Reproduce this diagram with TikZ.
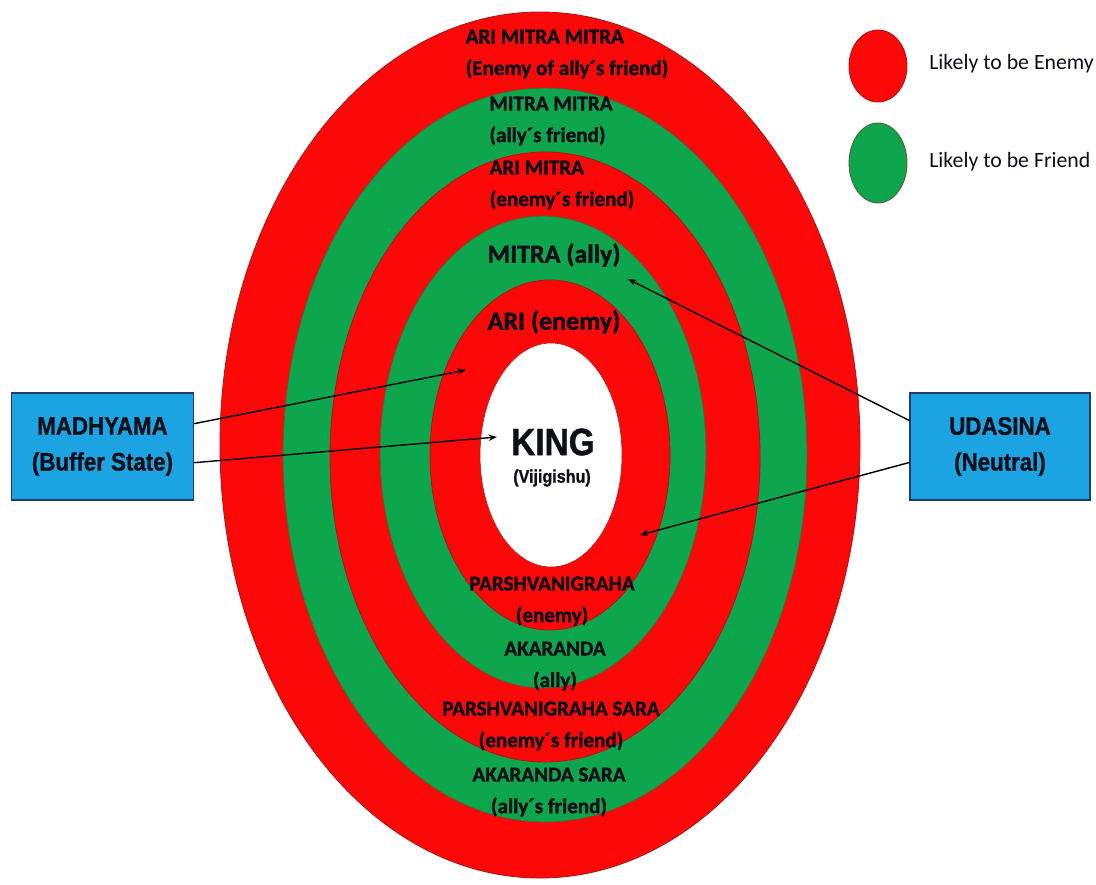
\documentclass[tikz,border=0pt]{standalone}
\usepackage{fontspec}
\setmainfont[BoldFeatures={FakeBold=1.6}]{Carlito}
\newfontfamily\headfont[FakeStretch=0.88, BoldFeatures={FakeBold=1}]{Liberation Sans}
\usetikzlibrary{arrows.meta}
\definecolor{enemyred}{RGB}{252,8,8}
\definecolor{friendgreen}{RGB}{14,166,76}
\definecolor{ringedge}{RGB}{165,25,25}
\definecolor{boxblue}{RGB}{28,164,226}
\definecolor{boxedge}{RGB}{30,60,110}
\definecolor{inktext}{RGB}{12,14,24}

\begin{document}
\begin{tikzpicture}[x=0.025cm, y=-0.025cm,
  redring/.style={fill=enemyred, draw=ringedge, line width=0.6pt},
  greenring/.style={fill=friendgreen, draw=ringedge!50!friendgreen, line width=0.6pt},
  ringlbl/.style={font=\bfseries\fontsize{15}{22.5}\selectfont, text=inktext, inner sep=0pt},
  biglbl/.style={font=\bfseries\fontsize{18.5}{22}\selectfont, text=inktext, inner sep=0pt},
  statebox/.style={draw=boxedge, line width=1pt, fill=boxblue, minimum width=4.55cm, text=inktext,
    minimum height=2.68cm, align=center, font=\headfont\bfseries\fontsize{18}{25.5}\selectfont},
  keytext/.style={anchor=west, inner sep=0pt, text=inktext, font=\fontsize{15.5}{18}\selectfont},
  link/.style={-{Stealth[length=6pt,width=4.5pt]}, line width=1pt}]
\useasboundingbox (0,0) rectangle (1096,884);

% circles of states
\filldraw[redring] (540,445) ellipse (320 and 433);
\filldraw[greenring] (545,455) ellipse (262 and 367);
\filldraw[redring] (545,457) ellipse (215 and 305);
\filldraw[greenring] (543,452) ellipse (163 and 236);
\filldraw[redring] (550,455) ellipse (120 and 175);
\filldraw[fill=white, draw=ringedge] (551,455) ellipse (71 and 112);

% labels in the rings
\node[ringlbl, align=left] (arimitramitra) at (567,54) {ARI MITRA MITRA\\(Enemy of ally´s friend)};
\node[ringlbl, align=left] (mitramitra) at (551,121) {MITRA MITRA\\(ally´s friend)};
\node[ringlbl, align=left] (arimitra) at (562,185) {ARI MITRA\\(enemy´s friend)};
\node[biglbl] (mitra) at (554,255) {MITRA (ally)};
\node[biglbl] (ari) at (554,322) {ARI (enemy)};
\node[text=inktext, font=\headfont\bfseries\fontsize{27}{30}\selectfont] (king) at (553,442) {KING};
\node[text=inktext, font=\headfont\bfseries\fontsize{13}{15}\selectfont] (vijigishu) at (552,478) {(Vijigishu)};
\node[ringlbl, align=center] (parshva) at (552,601) {PARSHVANIGRAHA\\(enemy)};
\node[ringlbl, align=center] (akaranda) at (555,666) {AKARANDA\\(ally)};
\node[ringlbl, align=center] (parshvasara) at (551,726) {PARSHVANIGRAHA SARA\\(enemy´s friend)};
\node[ringlbl, align=center] (akarandasara) at (549,792) {AKARANDA SARA\\(ally´s friend)};

% side states
\node[statebox] (madhyama) at (102.5,446.5) {MADHYAMA\\(Buffer State)};
\node[statebox, minimum width=4.5cm] (udasina) at (1000,446.5) {UDASINA\\(Neutral)};

\coordinate (tipari) at (466,370);
\coordinate (tipking) at (497,437);
\coordinate (tipmitra) at (628,279);
\coordinate (tipparshva) at (640,535);
\draw[link] (madhyama.14) -- (tipari);
\draw[link] (madhyama.-10) -- (tipking);
\draw[link] (udasina.164) -- (tipmitra);
\draw[link] (udasina.190) -- (tipparshva);

% key
\filldraw[redring] (878,66) ellipse (29 and 36);
\filldraw[greenring] (878,163) ellipse (29 and 40);
\node[keytext] (enemykey) at (929,64) {Likely to be Enemy};
\node[keytext] (friendkey) at (929,162) {Likely to be Friend};
\end{tikzpicture}
\end{document}
